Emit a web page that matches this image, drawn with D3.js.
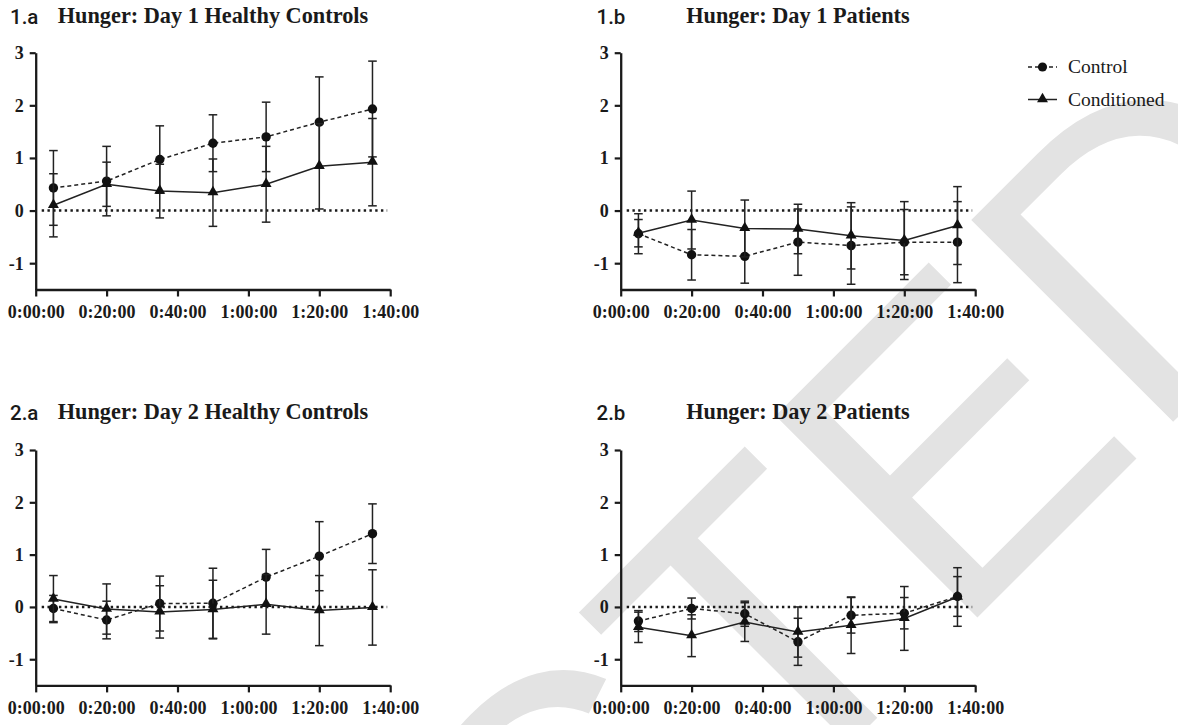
<!DOCTYPE html>
<html><head><meta charset="utf-8">
<script src="https://cdn.jsdelivr.net/npm/d3@7"></script>
<style>body{margin:0;background:#fff}svg{display:block}</style>
</head><body>
<svg id="c" width="1178" height="725"></svg>
<script>
// ---------- data ----------
const timeMinutes = [5, 20, 35, 50, 65, 80, 95];
const xTickValues = [0, 20, 40, 60, 80, 100];
const xTickLabels = ["0:00:00", "0:20:00", "0:40:00", "1:00:00", "1:20:00", "1:40:00"];
const yTickValues = [-1, 0, 1, 2, 3];
const yTickLabels = ["-1", "0", "1", "2", "3"];
const panelIds = ["1.a", "1.b", "2.a", "2.b"];
const panelTitles = ["Hunger: Day 1 Healthy Controls", "Hunger: Day 1 Patients",
                     "Hunger: Day 2 Healthy Controls", "Hunger: Day 2 Patients"];
const seriesNames = ["Control", "Conditioned"];

const control1a     = [0.43, 0.56, 0.97, 1.28, 1.40, 1.68, 1.93];
const controlErr1a  = [0.71, 0.66, 0.64, 0.54, 0.66, 0.86, 0.91];
const cond1a        = [0.10, 0.50, 0.37, 0.34, 0.50, 0.84, 0.92];
const condErr1a     = [0.60, 0.42, 0.51, 0.64, 0.72, 0.81, 0.83];

const control1b     = [-0.44, -0.84, -0.87, -0.60, -0.665, -0.60, -0.60];
const controlErr1b  = [0.38, 0.48, 0.51, 0.63, 0.735, 0.62, 0.77];
const cond1b        = [-0.43, -0.18, -0.34, -0.35, -0.48, -0.57, -0.285];
const condErr1b     = [0.26, 0.55, 0.54, 0.47, 0.63, 0.74, 0.74];

const control2a     = [-0.03, -0.25, 0.065, 0.07, 0.57, 0.97, 1.40];
const controlErr2a  = [0.25, 0.36, 0.525, 0.67, 0.53, 0.66, 0.57];
const cond2a        = [0.15, -0.04, -0.095, -0.05, 0.05, -0.07, -0.01];
const condErr2a     = [0.45, 0.48, 0.50, 0.56, 0.57, 0.67, 0.72];

const control2b     = [-0.27, -0.03, -0.13, -0.667, -0.16, -0.12, 0.20];
const controlErr2b  = [0.20, 0.20, 0.24, 0.45, 0.34, 0.30, 0.38];
const cond2b        = [-0.39, -0.55, -0.29, -0.48, -0.35, -0.22, 0.19];
const condErr2b     = [0.29, 0.40, 0.37, 0.48, 0.54, 0.61, 0.56];

const watermarkText = "RETRACTED";

// ---------- build ----------
const panelData = [
  {ctrl: control1a, ctrlE: controlErr1a, cond: cond1a, condE: condErr1a},
  {ctrl: control1b, ctrlE: controlErr1b, cond: cond1b, condE: condErr1b},
  {ctrl: control2a, ctrlE: controlErr2a, cond: cond2a, condE: condErr2a},
  {ctrl: control2b, ctrlE: controlErr2b, cond: cond2b, condE: condErr2b}
];
const layout = [
  {x0: 35.7, top: 52.7, w: 354.5, h: 236.8, idX: 10, titleY: 22.7},
  {x0: 620.7, top: 52.7, w: 354.5, h: 236.8, idX: 596.5, titleY: 22.7},
  {x0: 35.7, top: 450, w: 354.5, h: 235.4, idX: 10, titleY: 418.5},
  {x0: 620.7, top: 450, w: 354.5, h: 235.4, idX: 596.5, titleY: 418.5}
];

const svg = d3.select("#c");
const serif = "'Liberation Serif','Times New Roman',serif";
const ink = "#1a1a1a";

// watermark
svg.append("text")
  .attr("transform", "translate(1361,234) rotate(-45)")
  .attr("text-anchor", "end")
  .attr("font-family", "'Liberation Sans',Arial,sans-serif")
  .attr("font-size", 415)
  .attr("fill", "#e3e3e3")
  .text(watermarkText);

const tri = d3.symbol().type(d3.symbolTriangle).size(52);

panelData.forEach((pd, i) => {
  const L = layout[i];
  const x = d3.scaleLinear().domain([0, 100]).range([L.x0, L.x0 + L.w]);
  const y = d3.scaleLinear().domain([-1.5, 3]).range([L.top + L.h, L.top]);
  const g = svg.append("g");

  // id and title
  g.append("text").attr("x", L.idX).attr("y", L.titleY + 1.3)
    .attr("font-family", "Roboto,'Liberation Sans',Arial,sans-serif")
    .attr("font-weight", 500).attr("font-size", 20.5).attr("fill", ink)
    .text(panelIds[i]);
  g.append("text").attr("x", L.x0 + L.w / 2).attr("y", L.titleY)
    .attr("text-anchor", "middle")
    .attr("font-family", serif).attr("font-weight", "bold").attr("font-size", 22.3)
    .attr("fill", ink).text(panelTitles[i]);

  // zero dotted line
  g.append("line")
    .attr("x1", x(0) + 6).attr("x2", x(100) - 3)
    .attr("y1", y(0)).attr("y2", y(0))
    .attr("stroke", ink).attr("stroke-width", 2.5)
    .attr("stroke-dasharray", "2.4,3.35");

  // axes
  const yAxis = d3.axisLeft(y).tickValues(yTickValues).tickSize(6).tickSizeOuter(0)
    .tickPadding(6).tickFormat((d, k) => yTickLabels[k]);
  const xAxis = d3.axisBottom(x).tickValues(xTickValues).tickSize(7).tickSizeOuter(0)
    .tickPadding(7.5).tickFormat((d, k) => xTickLabels[k]);
  const ya = g.append("g").attr("transform", `translate(${L.x0},0)`).call(yAxis);
  const xa = g.append("g").attr("transform", `translate(0,${L.top + L.h})`).call(xAxis);
  [ya, xa].forEach(a => {
    a.select(".domain").attr("stroke", ink).attr("stroke-width", 2.3);
    a.selectAll(".tick line").attr("stroke", ink).attr("stroke-width", 2.2);
    a.selectAll("text").attr("font-family", serif).attr("font-weight", "bold")
      .attr("font-size", 18).attr("fill", ink);
  });
  ya.selectAll("text").attr("dy", "0.33em");
  xa.selectAll("text").attr("dy", "0.76em");

  // series
  const series = [
    {m: pd.ctrl, e: pd.ctrlE, dash: "4,3", marker: "circle"},
    {m: pd.cond, e: pd.condE, dash: null, marker: "triangle"}
  ];
  series.forEach(s => {
    const pts = timeMinutes.map((t, k) => ({t, v: s.m[k], e: s.e[k]}));
    // error bars
    const eb = g.append("g").attr("stroke", "#222").attr("stroke-width", 1.5);
    pts.forEach(p => {
      eb.append("line").attr("x1", x(p.t)).attr("x2", x(p.t))
        .attr("y1", y(p.v + p.e)).attr("y2", y(p.v - p.e));
      [p.v + p.e, p.v - p.e].forEach(c => {
        eb.append("line").attr("x1", x(p.t) - 4.3).attr("x2", x(p.t) + 4.3)
          .attr("y1", y(c)).attr("y2", y(c));
      });
    });
    // line
    g.append("path").datum(pts)
      .attr("d", d3.line().x(p => x(p.t)).y(p => y(p.v)))
      .attr("fill", "none").attr("stroke", "#222").attr("stroke-width", 1.5)
      .attr("stroke-dasharray", s.dash);
    // markers
    if (s.marker === "circle") {
      g.selectAll(null).data(pts).enter().append("circle")
        .attr("cx", p => x(p.t)).attr("cy", p => y(p.v)).attr("r", 4.7).attr("fill", "#111");
    } else {
      g.selectAll(null).data(pts).enter().append("path")
        .attr("d", tri).attr("transform", p => `translate(${x(p.t)},${y(p.v) - 0.5})`)
        .attr("fill", "#111");
    }
  });
});

// legend
const lg = svg.append("g");
const legendRows = [{y: 67, dash: "4,3", marker: "circle"}, {y: 99.5, dash: null, marker: "triangle"}];
legendRows.forEach((r, k) => {
  lg.append("line").attr("x1", 1028).attr("x2", 1057).attr("y1", r.y).attr("y2", r.y)
    .attr("stroke", "#222").attr("stroke-width", 1.5).attr("stroke-dasharray", r.dash);
  if (r.marker === "circle") lg.append("circle").attr("cx", 1042.5).attr("cy", r.y).attr("r", 4.6).attr("fill", "#111");
  else lg.append("path").attr("d", tri).attr("transform", `translate(1042.5,${r.y - 0.5})`).attr("fill", "#111");
  lg.append("text").attr("x", 1068).attr("y", r.y + 6.3)
    .attr("font-family", serif).attr("font-size", 19.5).attr("fill", ink)
    .text(seriesNames[k]);
});
</script>
</body></html>
